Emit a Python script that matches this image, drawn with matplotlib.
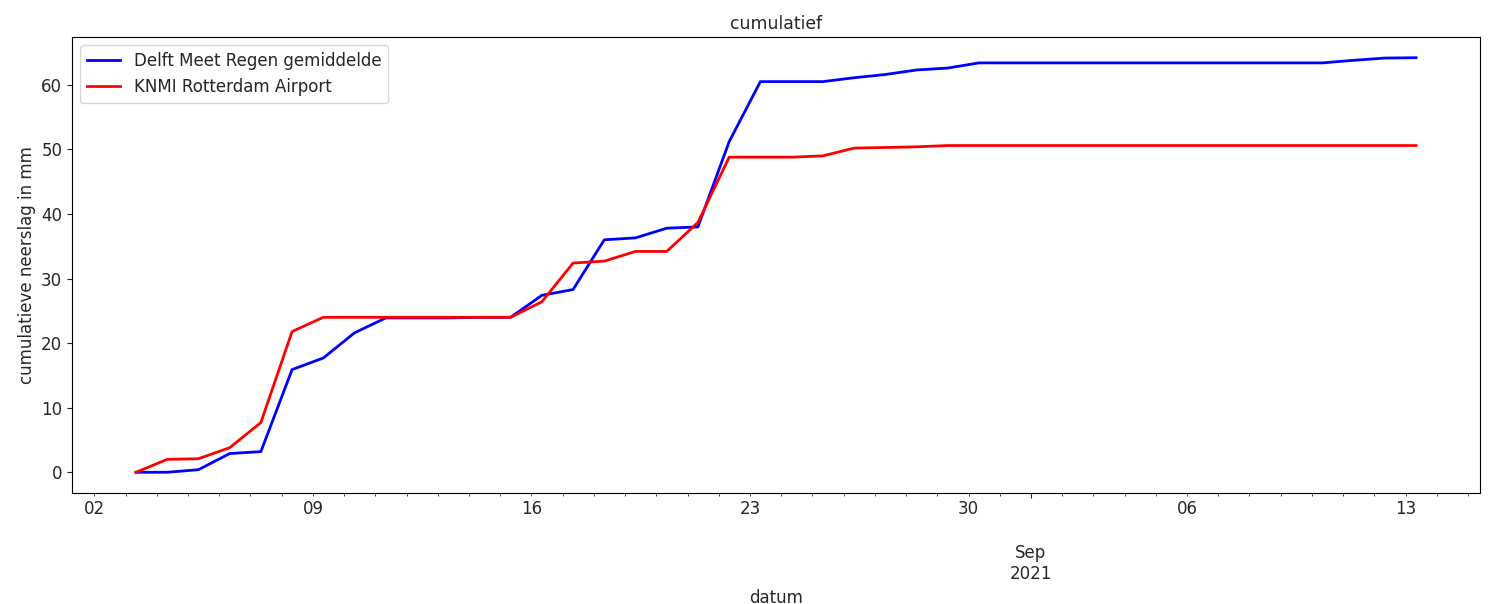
import matplotlib
matplotlib.use("Agg")
import matplotlib.pyplot as plt
import matplotlib.dates as mdates
from matplotlib.ticker import FuncFormatter
import pandas as pd

start_date = "2021-08-03 08:00"

delft = [0.0, 0.0, 0.4, 2.9, 3.2, 15.9, 17.7, 21.6, 23.9, 23.9,
         23.9, 24.0, 24.0, 27.4, 28.3, 36.0, 36.3, 37.8, 38.0, 51.2,
         60.5, 60.5, 60.5, 61.1, 61.6, 62.3, 62.6, 63.4, 63.4, 63.4,
         63.4, 63.4, 63.4, 63.4, 63.4, 63.4, 63.4, 63.4, 63.4, 63.8,
         64.15, 64.2]

knmi = [0.0, 2.0, 2.1, 3.8, 7.7, 21.8, 24.0, 24.0, 24.0, 24.0,
        24.0, 24.0, 24.0, 26.4, 32.4, 32.7, 34.2, 34.2, 38.7, 48.8,
        48.8, 48.8, 49.0, 50.2, 50.3, 50.4, 50.6, 50.6, 50.6, 50.6,
        50.6, 50.6, 50.6, 50.6, 50.6, 50.6, 50.6, 50.6, 50.6, 50.6,
        50.6, 50.6]

labels = ["Delft Meet Regen gemiddelde", "KNMI Rotterdam Airport"]

dates = pd.date_range(start_date, periods=len(delft), freq="D")

plt.rcParams["font.size"] = 12
plt.rcParams["text.color"] = "#262626"
plt.rcParams["axes.labelcolor"] = "#262626"
plt.rcParams["xtick.color"] = "#262626"
plt.rcParams["ytick.color"] = "#262626"

fig = plt.figure(figsize=(14.9, 6.04), dpi=100)
ax = fig.add_axes([72/1490, 1-493/604, (1480-72)/1490, (493-37)/604])

ax.plot(dates, delft, color="blue", lw=2, label=labels[0])
ax.plot(dates, knmi, color="red", lw=2, label=labels[1])

ax.xaxis.set_major_locator(mdates.MonthLocator())
ax.xaxis.set_major_formatter(FuncFormatter(
    lambda x, pos: mdates.num2date(x).strftime("\n\n%b\n%Y")))
ax.xaxis.set_minor_locator(mdates.DayLocator())
ax.xaxis.set_minor_formatter(FuncFormatter(
    lambda x, pos: mdates.num2date(x).strftime("%d")
    if mdates.num2date(x).weekday() == 0 else ""))
ax.tick_params(which="both", labelsize=12)

ax.set_title("cumulatief", fontsize=12.4)
ax.set_xlabel("datum", fontsize=12)
ax.set_ylabel("cumulatieve neerslag in mm", fontsize=12)
ax.legend(loc="upper left", fontsize=12)

fig.savefig("out.png", dpi=100)
